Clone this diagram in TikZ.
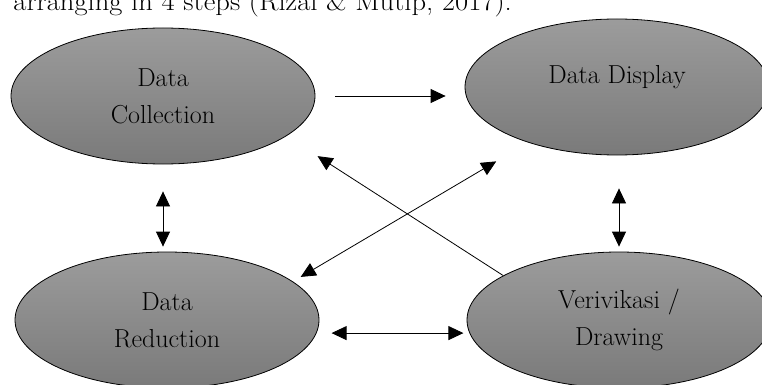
\documentclass[tikz,border=0pt]{standalone}
\usepackage{tikz}
\usetikzlibrary{shapes,arrows.meta}

\definecolor{ovaltop}{RGB}{156,156,156}
\definecolor{ovalbottom}{RGB}{122,122,122}
\tikzset{
  oval/.style={shape=ellipse,draw=black,line width=0.8pt,top color=ovaltop,bottom color=ovalbottom,
    align=center,minimum width=304pt,minimum height=136pt,inner sep=0pt,font=\fontsize{26}{37}\selectfont},
  onearr/.style={-{Triangle[length=15pt,width=14pt]},draw=black,line width=0.8pt},
  twoarr/.style={{Triangle[length=15pt,width=14pt]}-{Triangle[length=15pt,width=14pt]},draw=black,line width=0.8pt}
}

\begin{document}
\begin{tikzpicture}[x=1pt,y=-1pt]
\useasboundingbox (0,0) rectangle (762,385);
\clip (0,0) rectangle (762,385);
\node[anchor=base east,font=\fontsize{26}{37}\selectfont,inner xsep=0pt] (intro) at (512,11) {\scalebox{1.1}[1]{arranging in 4 steps (Rizal \& Mutip, 2017).}};
\node[oval] (coll) at (163,96) {Data\\Collection};
\node[oval,text depth=25pt] (disp) at (617,87) {Data Display};
\node[oval] (red) at (167,320) {Data\\Reduction};
\node[oval] (ver) at (619,320) {Verivikasi /\\Drawing};

\draw [onearr,shorten <=20pt,shorten >=19pt] (coll.east) -- (coll.east -| disp.west);
\draw [twoarr,shorten <=27pt,shorten >=5pt] (coll.south) -- (coll.south |- red.north);
\draw [twoarr,shorten <=33pt,shorten >=5pt] (ver.north |- disp.south) -- (ver.north);
\draw [twoarr,shorten <=15pt,shorten >=6pt] (red.-5) -- (ver.185);
\draw [onearr,shorten >=37pt] (ver.159) -- (coll.-18);
\draw [twoarr,shorten <=9pt,shorten >=37pt] (red.17) -- (disp.212);
\end{tikzpicture}
\end{document}
